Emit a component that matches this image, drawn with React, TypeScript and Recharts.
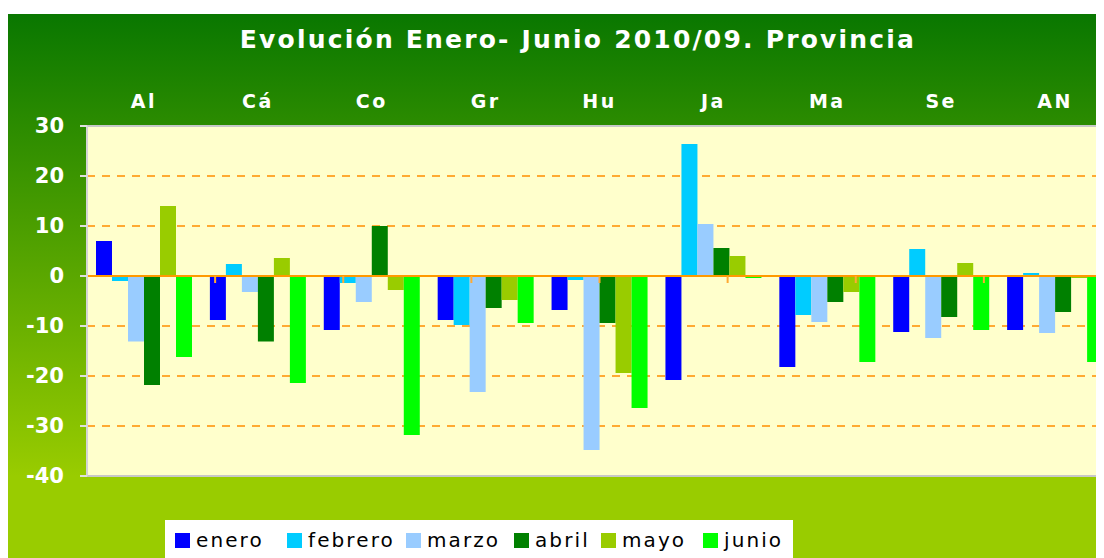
import React from 'react';
import { BarChart, Bar, XAxis, YAxis, CartesianGrid, ReferenceLine, Legend } from 'recharts';

const categories = ['Al', 'Cá', 'Co', 'Gr', 'Hu', 'Ja', 'Ma', 'Se', 'AN'];
const enero = [7.0, -8.8, -10.8, -8.8, -6.8, -20.8, -18.2, -11.2, -10.8];
const febrero = [-1.0, 2.4, -1.4, -9.8, -0.8, 26.4, -7.8, 5.4, 0.6];
const marzo = [-13.1, -3.2, -5.2, -23.2, -34.8, 10.4, -9.2, -12.4, -11.4];
const abril = [-21.8, -13.1, 10.0, -6.4, -9.4, 5.6, -5.2, -8.2, -7.2];
const mayo = [14.0, 3.6, -2.8, -4.8, -19.4, 4.0, -3.2, 2.6, -0.4];
const junio = [-16.2, -21.4, -31.8, -9.4, -26.4, -0.4, -17.2, -10.8, -17.2];
const yTicks = [-40, -30, -20, -10, 0, 10, 20, 30];
const categoryBoundaries = [0, 1, 2, 3, 4, 5, 6, 7, 8];

const seriesNames = ['enero', 'febrero', 'marzo', 'abril', 'mayo', 'junio'];
const seriesValues = [enero, febrero, marzo, abril, mayo, junio];
const seriesColors = ['#0000ff', '#00ccff', '#99ccff', '#008000', '#99cc00', '#00ff00'];
const legendItemWidths = [112, 119, 108, 87, 102, 90];

const data = categories.map((name, i) => {
  const row: Record<string, string | number> = { name };
  seriesNames.forEach((s, j) => {
    row[s] = seriesValues[j][i];
  });
  return row;
});

const FONT = '"DejaVu Sans", Verdana, sans-serif';

const TopTick = (props: any) => {
  const { x, y, payload } = props;
  return (
    <text x={x} y={y} dy={-18} textAnchor="middle" fill="#ffffff" fontFamily={FONT} fontWeight="bold" fontSize={19} letterSpacing={2.5}>
      {payload.value}
    </text>
  );
};

const renderLegend = () => (
  <div
    style={{
      display: 'flex',
      alignItems: 'center',
      height: '100%',
      paddingLeft: 10,
      boxSizing: 'border-box',
      fontFamily: FONT,
      fontSize: 20,
      letterSpacing: 2.1,
      color: '#000',
      whiteSpace: 'nowrap',
    }}
  >
    {seriesNames.map((s, i) => (
      <div key={s} style={{ display: 'flex', alignItems: 'center', width: legendItemWidths[i], flex: 'none' }}>
        <span style={{ display: 'inline-block', width: 15, height: 15, background: seriesColors[i], marginRight: 6 }} />
        <span>{s}</span>
      </div>
    ))}
  </div>
);

export default function App() {
  return (
    <div
      style={{
        position: 'relative',
        marginTop: 6,
        width: 1096,
        height: 544,
        overflow: 'hidden',
        background: 'linear-gradient(to bottom, #097700 0%, #99cc00 85%, #99cc00 100%)',
      }}
    >
      <div
        style={{
          position: 'absolute',
          left: 0,
          top: 12,
          width: 1140,
          textAlign: 'center',
          color: '#fff',
          fontFamily: FONT,
          fontWeight: 'bold',
          fontSize: 25,
          lineHeight: '28px',
          letterSpacing: 2.2,
          whiteSpace: 'nowrap',
        }}
      >
        Evolución Enero- Junio 2010/09. Provincia
      </div>
      <BarChart
        width={1120}
        height={560}
        data={data}
        margin={{ top: 62, right: 16, bottom: 98, left: 0 }}
        barGap={0}
        barSize={16}
      >
        <CartesianGrid
          vertical={false}
          horizontal={true}
          fill="#ffffcc"
          fillOpacity={1}
          stroke="#ffaa33"
          strokeWidth={2}
          strokeDasharray="8 7"
        />
        <XAxis
          dataKey="name"
          orientation="top"
          height={50}
          axisLine={false}
          tickLine={false}
          tickSize={0}
          tickMargin={0}
          tick={<TopTick />}
          interval={0}
        />
        <XAxis xAxisId="num" type="number" domain={[0, 9]} hide />
        <YAxis
          domain={[-40, 30]}
          ticks={yTicks}
          width={79}
          interval={0}
          axisLine={{ stroke: '#d4d4d4', strokeWidth: 2 }}
          tickLine={{ stroke: '#e0e0e0', strokeWidth: 2 }}
          tickSize={7}
          tickMargin={16}
          tick={{ fill: '#ffffff', fontFamily: FONT, fontWeight: 'bold', fontSize: 21 }}
        />
        <ReferenceLine y={30} stroke="#c8c8c8" strokeWidth={2} />
        <ReferenceLine y={-40} stroke="#c8c8c8" strokeWidth={2} />
        {seriesNames.map((s, i) => (
          <Bar key={s} dataKey={s} name={s} fill={seriesColors[i]} isAnimationActive={false} />
        ))}
        <ReferenceLine y={0} stroke="#ff9900" strokeWidth={2} />
        {categoryBoundaries.map((b) => (
          <ReferenceLine
            key={b}
            xAxisId="num"
            segment={[
              { x: b, y: 0 },
              { x: b, y: -1.4 },
            ]}
            stroke="#ffaa33"
            strokeWidth={2}
          />
        ))}
        <Legend
          layout="horizontal"
          verticalAlign="middle"
          align="center"
          content={renderLegend}
          wrapperStyle={{ left: 157, top: 506, width: 628, height: 40, background: '#ffffff' }}
        />
      </BarChart>
    </div>
  );
}
